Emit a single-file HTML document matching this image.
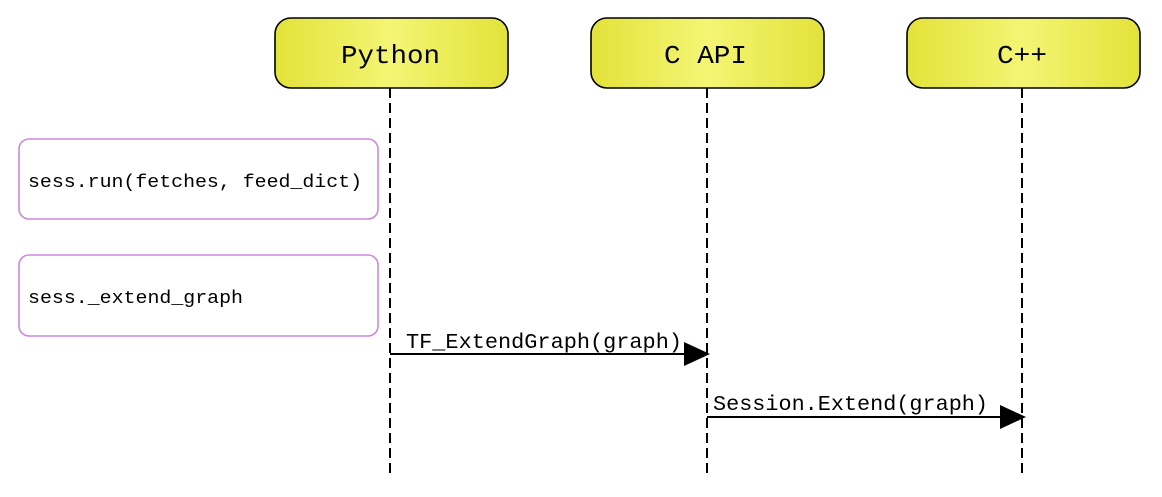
<!DOCTYPE html>
<html><head><meta charset="utf-8"><style>html,body{margin:0;padding:0;background:#fff}</style></head>
<body>
<svg width="1162" height="492" xmlns="http://www.w3.org/2000/svg" font-family="Liberation Mono, DejaVu Sans Mono, monospace">
<defs>
<linearGradient id="g" x1="0" x2="1" y1="0" y2="0">
<stop offset="0" stop-color="#e3e23a"/><stop offset="0.5" stop-color="#f4f574"/><stop offset="1" stop-color="#e3e23a"/>
</linearGradient>
</defs>
<g stroke="#000" stroke-width="2" stroke-dasharray="10,5">
<line x1="390" y1="88" x2="390" y2="478"/>
<line x1="707" y1="88" x2="707" y2="478"/>
<line x1="1022" y1="88" x2="1022" y2="478"/>
</g>
<g stroke="#000" stroke-width="1.6" fill="url(#g)">
<rect x="275" y="18" width="233" height="70" rx="16"/>
<rect x="591" y="18" width="233" height="70" rx="16"/>
<rect x="907" y="18" width="233" height="70" rx="16"/>
</g>
<g font-size="26" fill="#000">
<text x="341" y="63" textLength="99" lengthAdjust="spacingAndGlyphs">Python</text>
<text x="664" y="63" textLength="83" lengthAdjust="spacingAndGlyphs">C API</text>
<text x="997" y="63" textLength="50" lengthAdjust="spacingAndGlyphs">C++</text>
</g>
<g stroke="#cc88dd" stroke-width="1.6" fill="#fff">
<rect x="19" y="139" width="359" height="80" rx="10"/>
<rect x="19" y="255" width="359" height="81" rx="10"/>
</g>
<g font-size="18" fill="#000">
<text x="28" y="187" textLength="334" lengthAdjust="spacingAndGlyphs">sess.run(fetches, feed_dict)</text>
<text x="28" y="303" textLength="215" lengthAdjust="spacingAndGlyphs">sess._extend_graph</text>
</g>
<line x1="390" y1="354" x2="690" y2="354" stroke="#000" stroke-width="2"/>
<polygon points="684,342 710,354 684,366" fill="#000"/>
<text x="406" y="348" font-size="21" textLength="276" lengthAdjust="spacingAndGlyphs">TF_ExtendGraph(graph)</text>
<line x1="707" y1="417" x2="1005" y2="417" stroke="#000" stroke-width="2"/>
<polygon points="1000,405 1026,417 1000,429" fill="#000"/>
<text x="713" y="410" font-size="21" textLength="275" lengthAdjust="spacingAndGlyphs">Session.Extend(graph)</text>
</svg>
</body></html>
